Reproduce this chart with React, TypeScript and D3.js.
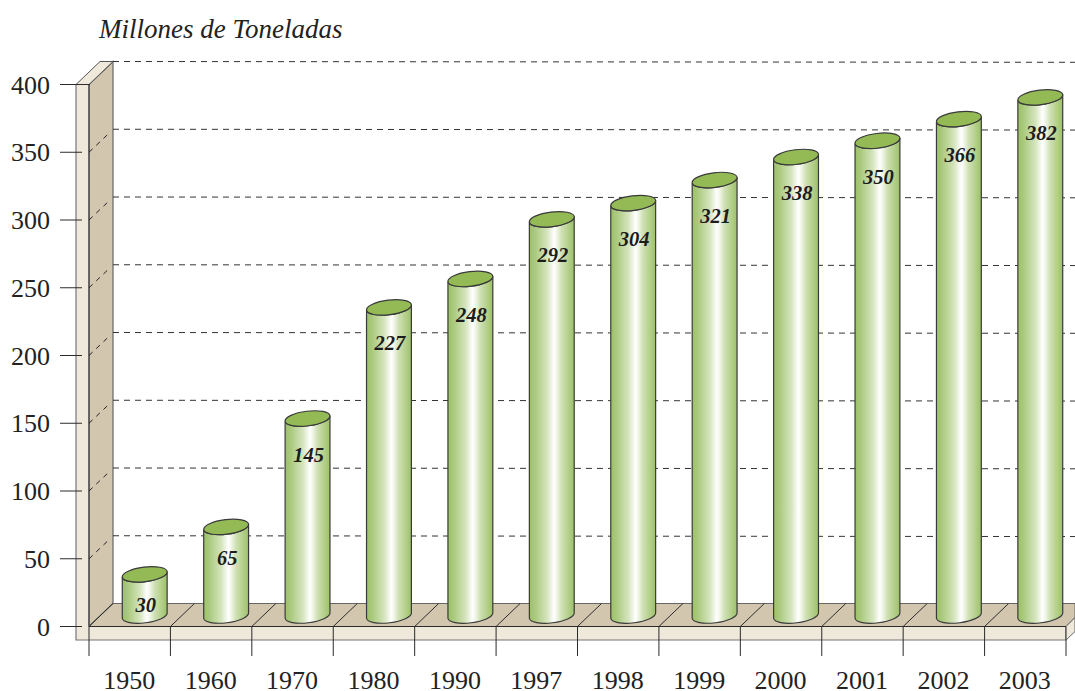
import React from "react";
import * as d3 from "d3";

const years = ["1950", "1960", "1970", "1980", "1990", "1997", "1998", "1999", "2000", "2001", "2002", "2003"];
const values = [30, 65, 145, 227, 248, 292, 304, 321, 338, 350, 366, 382];
const yTicks = [0, 50, 100, 150, 200, 250, 300, 350, 400];

const width = 1075;
const height = 691;
const depthX = 24;
const depthY = 23;
const wallFront = "#efe9dc";
const wallSide = "#d2c7ae";
const edge = "#2b2b2b";
const serif = "'Liberation Serif', serif";

const x = d3.scaleBand<string>().domain(years).range([89, 1066]);
const y = d3.scaleLinear().domain([0, 400]).range([626.5, 84.5]);
const poly = d3.line();

const rx = 22.6;
const ry = 7.3;
const tilt = -7;
const dx = rx * Math.cos((tilt * Math.PI) / 180);
const dy = rx * Math.sin((tilt * Math.PI) / 180);

const Cylinder = ({ year, value }: { year: string; value: number }) => {
  const cx = (x(year) as number) + x.bandwidth() / 2 + 15;
  const top = y(value) - depthY / 2;
  const bottom = y(0) - depthY / 2 + 0.5;
  const body = `M${cx - dx},${top - dy}L${cx - dx},${bottom - dy}A${rx},${ry} ${tilt} 0 0 ${cx + dx},${bottom + dy}L${cx + dx},${top + dy}A${rx},${ry} ${tilt} 0 1 ${cx - dx},${top - dy}Z`;
  return (
    <g>
      <path d={body} fill="url(#barGrad)" stroke="#3a3a3a" strokeWidth={1.2} />
      <ellipse
        cx={cx}
        cy={top}
        rx={rx}
        ry={ry}
        transform={`rotate(${tilt} ${cx} ${top})`}
        fill="#93ba55"
        stroke="#3a3a3a"
        strokeWidth={1.2}
      />
      <text
        x={cx + 1}
        y={top + (value < 100 ? 38 : 43)}
        textAnchor="middle"
        fontFamily={serif}
        fontStyle="italic"
        fontWeight="bold"
        fontSize={20.5}
        fill="#1c1c1c"
      >
        {value}
      </text>
    </g>
  );
};

const App = () => {
  const floorY = y(0);
  const topY = y(400);
  const ticksX = [...years.map((d) => x(d) as number), 1066];

  return (
    <svg width={width} height={height} style={{ position: "absolute", left: 0, top: 0, background: "#fff" }}>
      <defs>
        <linearGradient id="barGrad" x1="0" x2="1" y1="0" y2="0">
          <stop offset="0" stopColor="#9dc168" />
          <stop offset="0.12" stopColor="#a9c97c" />
          <stop offset="0.4" stopColor="#d6e5bf" />
          <stop offset="0.55" stopColor="#ffffff" />
          <stop offset="0.6" stopColor="#f4f8ec" />
          <stop offset="0.72" stopColor="#cfe0b4" />
          <stop offset="1" stopColor="#9dc168" />
        </linearGradient>
      </defs>

      <text x={99} y={38} fontFamily={serif} fontStyle="italic" fontSize={27} fill="#222">
        Millones de Toneladas
      </text>

      {/* side wall */}
      <path
        d={poly([[89, topY], [89 + depthX, topY - depthY], [89 + depthX, floorY - depthY], [89, floorY]]) as string}
        fill={wallSide}
        stroke="#666"
        strokeWidth={1.2}
      />

      {/* floor */}
      <path
        d={poly([[89, floorY], [89 + depthX, floorY - depthY], [1075, floorY - depthY], [1075, floorY - 9], [1066, floorY]]) as string}
        fill={wallSide}
        stroke="#666"
        strokeWidth={1}
      />
      {ticksX.slice(0, -1).map((t) => (
        <line key={t} x1={t} y1={floorY} x2={t + depthX} y2={floorY - depthY} stroke={edge} strokeWidth={1} />
      ))}

      {/* front slab and post */}
      <path
        d={poly([[76, topY], [89, topY], [89, floorY], [1066, floorY], [1066, floorY + 13.5], [76, floorY + 13.5]]) as string + "Z"}
        fill={wallFront}
        stroke="#777"
        strokeWidth={1.2}
      />
      <path
        d={poly([[76, topY], [76 + depthX, topY - depthY], [89 + depthX, topY - depthY], [89, topY]]) as string + "Z"}
        fill={wallFront}
        stroke="#555"
        strokeWidth={1}
      />
      <path
        d={poly([[1066, floorY], [1075, floorY - 9], [1075, floorY + 5], [1066, floorY + 13.5]]) as string}
        fill={wallFront}
        stroke="#666"
        strokeWidth={1}
      />
      <line x1={89} y1={topY} x2={89} y2={floorY} stroke={edge} strokeWidth={1} />
      <line x1={89} y1={floorY} x2={1066} y2={floorY} stroke={edge} strokeWidth={1.2} />

      {/* grid */}
      {yTicks.slice(1).map((t) => (
        <g key={t}>
          <line
            x1={89 + depthX}
            y1={y(t) - depthY}
            x2={width}
            y2={y(t) - depthY + 0.8}
            stroke="#333"
            strokeWidth={1}
            strokeDasharray="6 5"
          />
          {t < 400 && (
            <line
              x1={89}
              y1={y(t)}
              x2={109}
              y2={y(t) - 19}
              stroke="#222"
              strokeWidth={1}
              strokeDasharray="5 5"
            />
          )}
        </g>
      ))}

      {/* y axis */}
      {yTicks.map((t) => (
        <g key={t}>
          <line x1={60} y1={y(t)} x2={t === 400 ? 90 : 82} y2={y(t)} stroke={edge} strokeWidth={1} />
          <text x={50} y={y(t) + 9} textAnchor="end" fontFamily={serif} fontSize={26} fill="#222">
            {t}
          </text>
        </g>
      ))}

      {/* x axis */}
      {ticksX.map((t) => (
        <line key={t} x1={t} y1={floorY} x2={t} y2={656} stroke={edge} strokeWidth={1} />
      ))}
      {years.map((d) => (
        <text
          key={d}
          x={(x(d) as number) + x.bandwidth() / 2 - 0.5}
          y={689}
          textAnchor="middle"
          fontFamily={serif}
          fontSize={26}
          fill="#222"
        >
          {d}
        </text>
      ))}

      {years.map((d, i) => (
        <Cylinder key={d} year={d} value={values[i]} />
      ))}
    </svg>
  );
};

export default App;
